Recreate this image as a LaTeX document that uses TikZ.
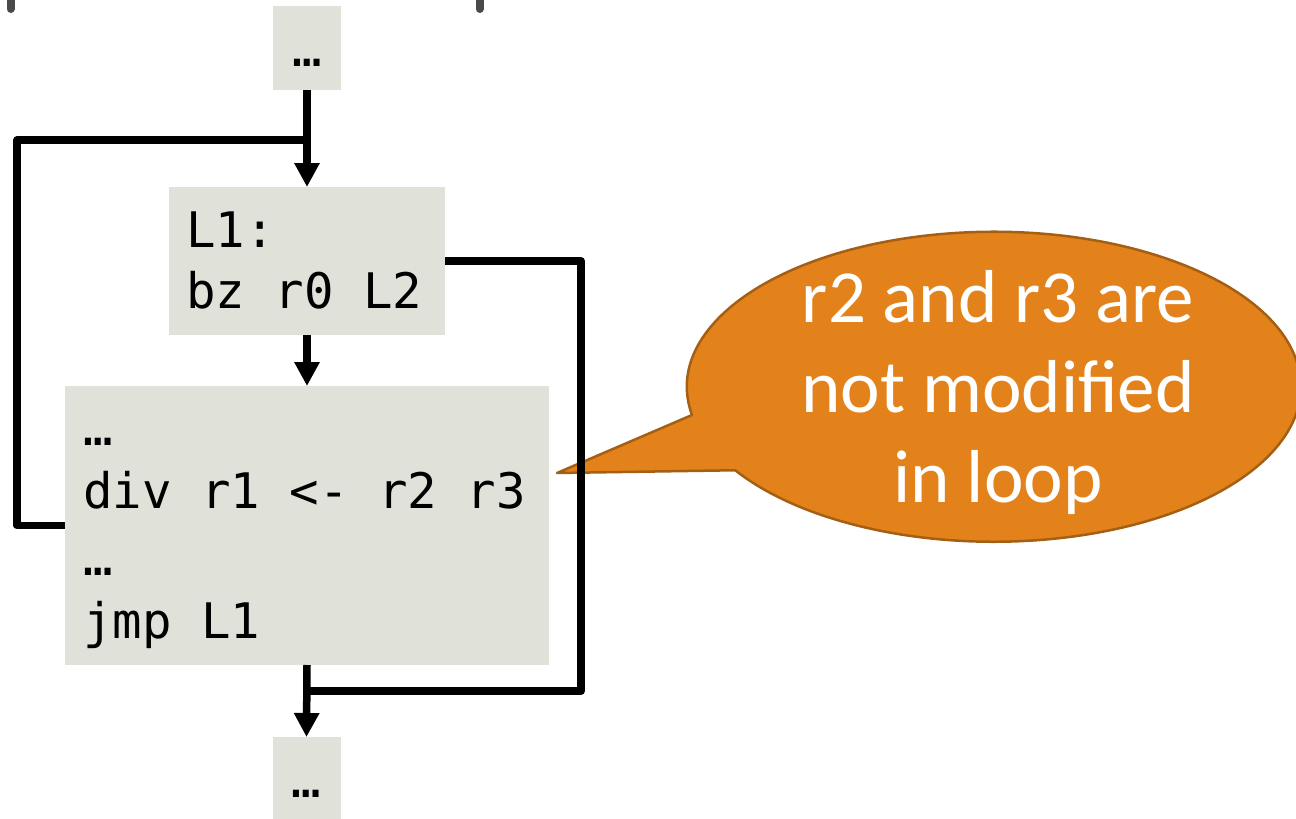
\documentclass[tikz,border=0pt]{standalone}
\usepackage{fontspec}
\setmainfont{Carlito}
\newfontfamily\codefont{DejaVu Sans Mono}
\usetikzlibrary{arrows.meta}
\definecolor{boxfill}{HTML}{E0E2DA}
\definecolor{noteorange}{HTML}{E3821A}
\definecolor{noteedge}{HTML}{A45F14}
\definecolor{bargray}{HTML}{4A4A4A}

\begin{document}
\begin{tikzpicture}[x=1pt,y=-1pt,
  block/.style={fill=boxfill, draw=none, inner sep=0pt, outer sep=0pt},
  dotsblock/.style={block, minimum width=68pt, minimum height=84pt,
    text height=36pt, text depth=0pt, font=\codefont\fontsize{49}{58}\selectfont},
  codeline/.style={anchor=base west, inner sep=0pt,
    font=\codefont\fontsize{49}{58}\selectfont},
  flow/.style={line width=7.5pt, line join=round},
  flowarrow/.style={flow, -{Triangle[width=24pt,length=24pt]}},
  notetext/.style={anchor=base, inner sep=0pt, text=white,
    font=\fontsize{75}{90}\selectfont},
  bracket/.style={draw=bargray, line width=8pt, line cap=round},
]
\useasboundingbox (0,0) rectangle (1296,819);

% ends of the bracket above the figure
\draw[bracket] (10.5,-8) -- (10.5,9);
\draw[bracket] (479.5,-8) -- (479.5,9);

% basic blocks
\node[dotsblock] (top) at (307,48) {…};
\node[block, minimum width=276pt, minimum height=148pt] (head) at (307,261) {};
\node[block, minimum width=484pt, minimum height=279pt] (body) at (307,525.5) {};
\node[dotsblock] (exit) at (306.5,779) {…};

% code inside the blocks
\node[codeline] (h1) at (186,247) {L1:};
\node[codeline] (h2) at (186,308) {bz r0 L2};
\node[codeline] (b1) at (83,445) {…};
\node[codeline] (b2) at (83,508) {div r1 <- r2 r3};
\node[codeline] (b3) at (83,575) {…};
\node[codeline] (b4) at (83,638) {jmp L1};

% callout
\draw[fill=noteorange, draw=noteedge, line width=2.5pt, line join=round]
  (557,473) -- (692,415)
  arc[start angle=169.5, end angle=507.4, x radius=307, y radius=155]
  -- cycle;
\node[notetext] (n1) at (998,322) {r2 and r3 are};
\node[notetext] (n2) at (998,412) {not modified};
\node[notetext] (n3) at (998,502) {in loop};

% control flow
\coordinate (join) at (307,140);
\coordinate (backleft) at (17,140);
\coordinate (exitright) at (581,691);
\coordinate (merge) at (307,691);

\draw[flowarrow] (top.south) -- (head.north);
\draw[flow] (body.west) -| (backleft) -- (join);
\draw[flowarrow] (head.south) -- (body.north);
\draw[flow] (head.east) -| (exitright) -- (merge);
\draw[flowarrow] (body.south) -- (exit.north);
\end{tikzpicture}
\end{document}
